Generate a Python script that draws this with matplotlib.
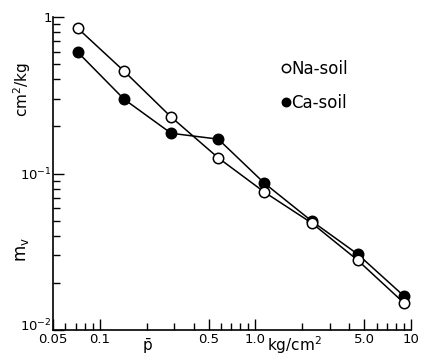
import matplotlib
matplotlib.use("Agg")
import matplotlib.pyplot as plt
import matplotlib.transforms as mtransforms
from matplotlib.ticker import FixedLocator, LogLocator, NullFormatter

# pressure p (kg/cm^2) and compressibility m_v (cm^2/kg)
pressure = [0.072, 0.143, 0.287, 0.577, 1.14, 2.30, 4.53, 9.0]
na_soil = [0.85, 0.452, 0.230, 0.126, 0.0762, 0.0483, 0.0280, 0.0149]
ca_soil = [0.598, 0.299, 0.181, 0.166, 0.0869, 0.0497, 0.0306, 0.0165]

x_ticks = [0.05, 0.1, 0.5, 1.0, 5.0, 10]
x_labels = ["0.05", "0.1", "0.5", "1.0", "5.0", "10"]
y_ticks = [0.01, 0.1, 1]
y_labels = ["$10^{-2}$", "$10^{-1}$", "1"]

plt.rcParams["font.family"] = ["DejaVu Sans"]

fig = plt.figure(figsize=(4.22, 3.57), dpi=100)
ax = fig.add_axes([0.1256, 0.0756, 0.974 - 0.1256, 0.952 - 0.0756])

ax.plot(pressure, na_soil, "-o", color="black", mfc="white", mec="black",
        ms=7.5, lw=1.1, mew=1.1, zorder=3)
ax.plot(pressure, ca_soil, "-o", color="black", mfc="black", mec="black",
        ms=7.5, lw=1.1, mew=1.1, zorder=2)

ax.set_xscale("log")
ax.set_yscale("log")
ax.set_xlim(0.05, 10)
ax.set_ylim(0.01, 1)

for s in ["top", "right"]:
    ax.spines[s].set_visible(False)
ax.spines["left"].set_linewidth(1.2)
ax.spines["bottom"].set_linewidth(1.2)

ax.xaxis.set_major_locator(FixedLocator(x_ticks))
ax.set_xticklabels(x_labels)
ax.xaxis.set_minor_locator(LogLocator(base=10, subs=range(2, 10)))
ax.xaxis.set_minor_formatter(NullFormatter())
ax.yaxis.set_major_locator(FixedLocator(y_ticks))
ax.set_yticklabels(y_labels)
ax.yaxis.set_minor_locator(LogLocator(base=10, subs=range(2, 10)))
ax.yaxis.set_minor_formatter(NullFormatter())

ax.tick_params(which="major", direction="in", length=8, width=1.0,
               labelsize=9.5, pad=2)
ax.tick_params(axis="y", which="major", pad=1)
ax.tick_params(which="minor", direction="in", length=5, width=1.0)

# lift the 10^-2 label a little so it clears the 0.05 label
low = ax.get_yticklabels()[0]
low.set_transform(low.get_transform() +
                  mtransforms.ScaledTranslation(0, 6 / 100, fig.dpi_scale_trans))

# axis labels placed like the original figure
fig.text(22 / 422, 1 - 90 / 357, "cm$^2$/kg", rotation=90, fontsize=11,
         ha="center", va="center")
fig.text(22 / 422, 1 - 250 / 357, "m$_\\mathrm{v}$", rotation=90, fontsize=12,
         ha="center", va="center")
fig.text(147 / 422, 0.004, "$\\bar{\\mathrm{p}}$", fontsize=11,
         ha="center", va="bottom")
fig.text(294 / 422, 0.004, "kg/cm$^2$", fontsize=11,
         ha="center", va="bottom")

# legend
ax.legend(handles=ax.lines, labels=["Na-soil", "Ca-soil"], frameon=False,
          loc="upper left", bbox_to_anchor=(0.61, 0.91), fontsize=12,
          handlelength=0, handletextpad=0.3, labelspacing=0.95, markerscale=0.8)

fig.savefig("out.png", dpi=100)
